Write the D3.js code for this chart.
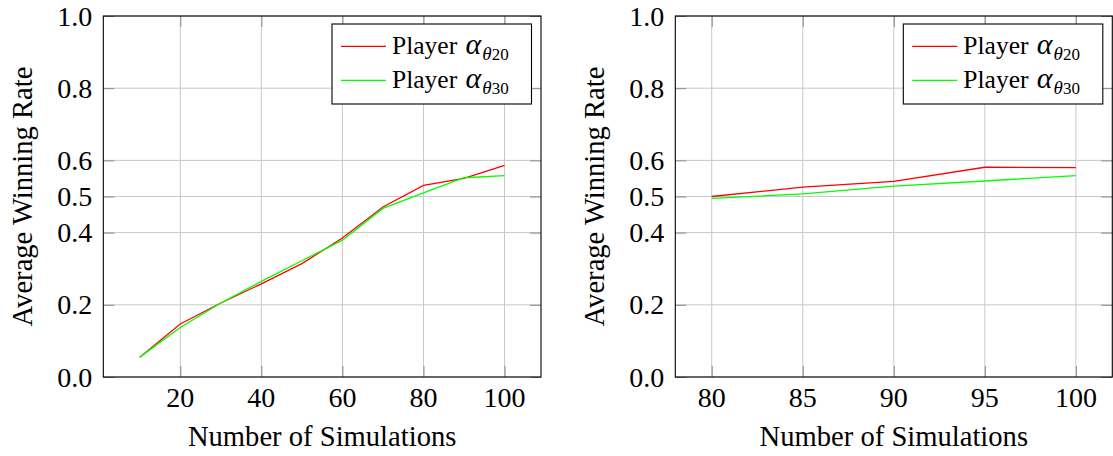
<!DOCTYPE html>
<html>
<head>
<meta charset="utf-8">
<script src="https://cdn.jsdelivr.net/npm/d3@7"></script>
<style>
  body { margin: 0; background: #fff; }
  svg text, svg tspan { font-family: "Liberation Serif", "Times New Roman", Tinos, serif !important; }
</style>
</head>
<body>
<script>
// left panel: 10..100 simulations
var simsLeft = [10, 20, 30, 40, 50, 60, 70, 80, 90, 100];
var rateLeft20 = [0.055, 0.147, 0.205, 0.258, 0.314, 0.385, 0.471, 0.531, 0.550, 0.586];
var rateLeft30 = [0.055, 0.137, 0.205, 0.265, 0.322, 0.379, 0.467, 0.510, 0.552, 0.558];
var xTicksLeft = [20, 40, 60, 80, 100];

// right panel: zoom on 80..100
var simsRight = [80, 85, 90, 95, 100];
var rateRight20 = [0.500, 0.526, 0.542, 0.581, 0.580];
var rateRight30 = [0.495, 0.507, 0.529, 0.543, 0.558];
var xTicksRight = [80, 85, 90, 95, 100];

var yTicks = [0, 0.2, 0.4, 0.5, 0.6, 0.8, 1.0];
var seriesNames = ["20", "30"];
var colors = ["#ff0000", "#00ff00"];

var FONT = "Liberation Serif";
var width = 1113, height = 456;
var svg = d3.select("body").append("svg")
  .attr("width", width).attr("height", height);

function addText(x, y, str, size) {
  return svg.append("text")
    .attr("x", x).attr("y", y)
    .attr("font-family", FONT)
    .attr("font-size", size)
    .text(str);
}

function panel(left, right, xDomain, xTicks, sims, rates) {
  var top = 16, bottom = 377;
  var x = d3.scaleLinear().domain(xDomain).range([left, right]);
  var y = d3.scaleLinear().domain([0, 1]).range([bottom, top]);
  var g = svg.append("g");

  // grid
  g.selectAll(".vgrid").data(xTicks).enter().append("line")
    .attr("x1", function(d) { return x(d); }).attr("x2", function(d) { return x(d); })
    .attr("y1", top).attr("y2", bottom)
    .attr("stroke", "#c8c8c8").attr("stroke-width", 1);
  g.selectAll(".hgrid").data(yTicks).enter().append("line")
    .attr("x1", left).attr("x2", right)
    .attr("y1", function(d) { return y(d); }).attr("y2", function(d) { return y(d); })
    .attr("stroke", "#c8c8c8").attr("stroke-width", 1);

  // inner tick marks on all four sides
  g.append("g").attr("transform", "translate(0," + bottom + ")")
    .call(d3.axisBottom(x).tickValues(xTicks).tickSize(-11).tickFormat(""));
  g.append("g").attr("transform", "translate(0," + top + ")")
    .call(d3.axisTop(x).tickValues(xTicks).tickSize(-11).tickFormat(""));
  g.append("g").attr("transform", "translate(" + left + ",0)")
    .call(d3.axisLeft(y).tickValues(yTicks).tickSize(-11).tickFormat(""));
  g.append("g").attr("transform", "translate(" + right + ",0)")
    .call(d3.axisRight(y).tickValues(yTicks).tickSize(-11).tickFormat(""));
  g.selectAll(".domain").remove();
  g.selectAll(".tick line").attr("stroke", "#8a8a8a");
  g.selectAll(".tick text").remove();

  // tick labels
  xTicks.forEach(function(v) {
    addText(x(v), 407, d3.format("d")(v), 28).attr("text-anchor", "middle");
  });
  yTicks.forEach(function(v) {
    addText(left - 11, y(v), d3.format(".1f")(v), 28)
      .attr("text-anchor", "end").attr("dy", "0.34em");
  });

  // lines
  var line = d3.line()
    .x(function(d) { return x(d[0]); })
    .y(function(d) { return y(d[1]); });
  rates.forEach(function(r, i) {
    g.append("path")
      .datum(sims.map(function(s, j) { return [s, r[j]]; }))
      .attr("fill", "none")
      .attr("stroke", colors[i])
      .attr("stroke-width", 1.3)
      .attr("d", line);
  });

  // frame
  g.append("rect")
    .attr("x", left).attr("y", top)
    .attr("width", right - left).attr("height", bottom - top)
    .attr("fill", "none").attr("stroke", "#000").attr("stroke-width", 1.1);

  // axis titles
  addText((left + right) / 2, 446, "Number of Simulations", 28.6).attr("text-anchor", "middle");
  addText(0, 0, "Average Winning Rate", 28.6)
    .attr("transform", "translate(" + (left - 71) + "," + ((top + bottom) / 2) + ") rotate(-90)")
    .attr("text-anchor", "middle");

  // legend
  var lx = right - 209, ly = 24;
  svg.append("rect")
    .attr("x", lx).attr("y", ly).attr("width", 199.5).attr("height", 80)
    .attr("fill", "#fff").attr("stroke", "#000").attr("stroke-width", 1.1);
  seriesNames.forEach(function(name, i) {
    var base = ly + 30.3 + i * 34;
    svg.append("line")
      .attr("x1", lx + 9).attr("x2", lx + 54)
      .attr("y1", base - 8).attr("y2", base - 8)
      .attr("stroke", colors[i]).attr("stroke-width", 1.3);
    var t = addText(lx + 60, base, null, 25.5);
    t.append("tspan").text("Player ");
    t.append("tspan").attr("font-style", "italic").attr("font-size", 30).attr("dx", 2).text("\u03b1");
    t.append("tspan").attr("font-style", "italic").attr("font-size", 19).attr("dx", 1).attr("dy", 6).text("\u03b8");
    t.append("tspan").attr("font-size", 17).attr("dy", 0).text(name);
  });
}

panel(103.3, 541, [1, 109], xTicksLeft, simsLeft, [rateLeft20, rateLeft30]);
panel(675.3, 1112.3, [78, 102], xTicksRight, simsRight, [rateRight20, rateRight30]);
</script>
</body>
</html>
